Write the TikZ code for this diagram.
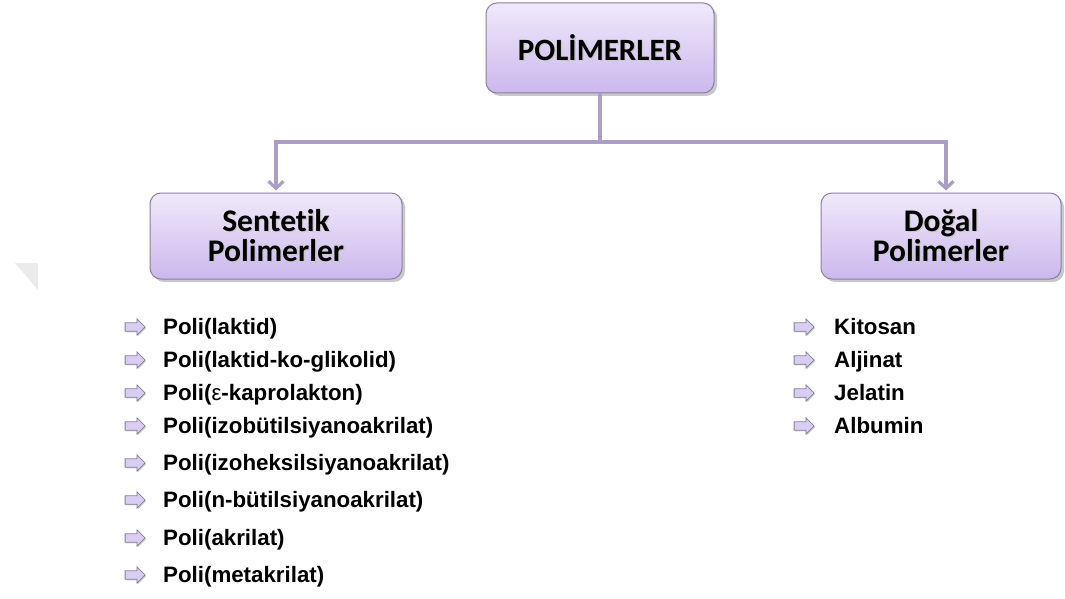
\documentclass[tikz,border=0pt]{standalone}
\usepackage{fontspec}
\setmainfont{Liberation Sans}
\newfontfamily\headfont[Ligatures=NoCommon]{Carlito}
\usetikzlibrary{shadows,shapes.arrows,arrows.meta}

\definecolor{boxtop}{RGB}{240,233,250}
\definecolor{boxbot}{RGB}{203,184,237}
\definecolor{boxline}{RGB}{140,126,165}
\definecolor{linkcol}{RGB}{170,158,196}
\definecolor{bulfill}{RGB}{218,205,244}
\definecolor{bulline}{RGB}{130,128,150}

% heading text with a soft grey copy behind it
\newcommand\shadowed[1]{\makebox[0pt][l]{\hspace{1.3pt}\raisebox{-1.3pt}{\color{black!22}#1}}#1}

\tikzset{
  hbox/.style={rounded corners=11pt, draw=boxline, line width=1pt,
    top color=boxtop, bottom color=boxbot,
    drop shadow={shadow xshift=3pt, shadow yshift=-3pt, opacity=.3, fill=black!70},
    font=\headfont\bfseries\fontsize{31.5}{30}\selectfont, align=center, inner sep=0pt},
  link/.style={draw=linkcol, line width=3.2pt},
  linkarrow/.style={link, -{Straight Barb[length=7pt,width=15pt]}, shorten >=2pt},
  bul/.style={single arrow, draw=bulline, fill=bulfill, line width=0.8pt,
    single arrow head extend=4pt, single arrow tip angle=90,
    inner xsep=0pt, inner ysep=3.8pt, minimum height=20pt,
    drop shadow={shadow xshift=1pt, shadow yshift=-1.2pt, opacity=.3, fill=black!60}},
  item/.style={anchor=base west, inner sep=0pt, font=\bfseries\fontsize{22.3}{24}\selectfont}
}

\begin{document}
\begin{tikzpicture}[x=1pt,y=-1pt]
\fill[white] (0,0) rectangle (1065,599);
\useasboundingbox (0,0) rectangle (1065,599);

% faint corner mark
\fill[black!8] (15,263) -- (38,263) -- (38,290) -- cycle;

% boxes
\node[hbox, minimum width=228pt, minimum height=90pt] (top) at (600,48)
  {\fontsize{31}{30}\selectfont\shadowed{POLİMERLER}};
\node[hbox, minimum width=252pt, minimum height=86pt] (left) at (276,236)
  {\shadowed{Sentetik}\\\shadowed{Polimerler}};
\node[hbox, minimum width=240pt, minimum height=86pt] (right) at (941,236)
  {\shadowed{Doğal}\\\shadowed{Polimerler}};

% connectors
\coordinate (split) at (600,142);
\draw[link] (top.south) -- (split);
\draw[linkarrow] (split) -| (left.north);
\draw[linkarrow] (split) -| ([xshift=5pt]right.north);

% synthetic polymers
\foreach \t/\yy [count=\i] in {Poli(laktid)/327, Poli(laktid-ko-glikolid)/360,
  Poli({\mdseries ε}-kaprolakton)/393, Poli(izobütilsiyanoakrilat)/426,
  Poli(izoheksilsiyanoakrilat)/463, Poli(n-bütilsiyanoakrilat)/500,
  Poli(akrilat)/538, Poli(metakrilat)/575} {
  \node[bul] (sb\i) at (133,\yy) {};
  \node[item] (s\i) at (163,\yy+7.5) {\t};
}

% natural polymers
\foreach \t/\yy [count=\i] in {Kitosan/327, Aljinat/360, Jelatin/393, Albumin/426} {
  \node[bul] (nb\i) at (802,\yy) {};
  \node[item] (n\i) at (834,\yy+7.5) {\t};
}
\end{tikzpicture}
\end{document}
